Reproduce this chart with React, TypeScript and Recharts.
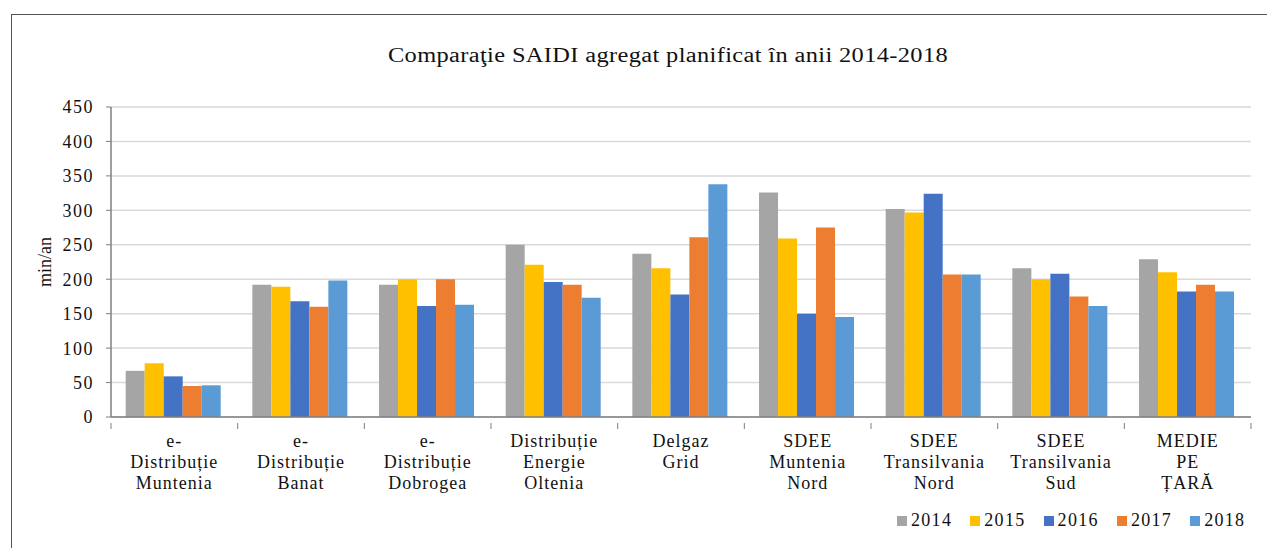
import { BarChart, Bar, XAxis, YAxis, CartesianGrid, Legend } from "recharts";

const categories = [
  "e-Distribuție Muntenia",
  "e-Distribuție Banat",
  "e-Distribuție Dobrogea",
  "Distribuție Energie Oltenia",
  "Delgaz Grid",
  "SDEE Muntenia Nord",
  "SDEE Transilvania Nord",
  "SDEE Transilvania Sud",
  "MEDIE PE ȚARĂ",
];

const categoryLines = [
  ["e-", "Distribuție", "Muntenia"],
  ["e-", "Distribuție", "Banat"],
  ["e-", "Distribuție", "Dobrogea"],
  ["Distribuție", "Energie", "Oltenia"],
  ["Delgaz", "Grid"],
  ["SDEE", "Muntenia", "Nord"],
  ["SDEE", "Transilvania", "Nord"],
  ["SDEE", "Transilvania", "Sud"],
  ["MEDIE", "PE", "ȚARĂ"],
];

const y2014 = [67, 192, 192, 250, 237, 326, 302, 216, 229];
const y2015 = [78, 189, 200, 221, 216, 259, 297, 200, 210];
const y2016 = [59, 168, 161, 196, 178, 150, 324, 208, 182];
const y2017 = [45, 160, 200, 192, 261, 275, 207, 175, 192];
const y2018 = [46, 198, 163, 173, 338, 145, 207, 161, 182];

const yTicks = [0, 50, 100, 150, 200, 250, 300, 350, 400, 450];

const series = [
  { key: "2014", color: "#A5A5A5" },
  { key: "2015", color: "#FFC000" },
  { key: "2016", color: "#4472C4" },
  { key: "2017", color: "#ED7D31" },
  { key: "2018", color: "#5B9BD5" },
];

const data = categories.map((name, i) => ({
  name,
  "2014": y2014[i],
  "2015": y2015[i],
  "2016": y2016[i],
  "2017": y2017[i],
  "2018": y2018[i],
}));

const FONT = "'Liberation Serif', 'Times New Roman', serif";
const TEXT = "#111";
const CHART_W = 1262;
const CHART_H = 530;
const MARGIN = { top: 92, right: 23, left: 0, bottom: 17 };
const Y_W = 99;

// half a category band, used to put x tick marks between groups (Excel style)
const plotW = CHART_W - MARGIN.left - MARGIN.right - Y_W;
const halfBand = plotW / categories.length / 2;

const CategoryTick = (props: any) => {
  const { x, y, payload, index } = props;
  const lines = categoryLines[index] || [payload.value];
  return (
    <g>
      <line x1={x - halfBand} y1={y - 2} x2={x - halfBand} y2={y + 4} stroke="#7f7f7f" />
      {index === categories.length - 1 && (
        <line x1={x + halfBand} y1={y - 2} x2={x + halfBand} y2={y + 4} stroke="#7f7f7f" />
      )}
      <text
        x={x}
        y={y + 22}
        textAnchor="middle"
        fill={TEXT}
        fontSize={18}
        fontFamily={FONT}
        letterSpacing={1}
      >
        {lines.map((l: string, i: number) => (
          <tspan key={i} x={x} dy={i === 0 ? 0 : 21}>
            {l}
          </tspan>
        ))}
      </text>
    </g>
  );
};

const LegendContent = ({ payload }: any) => (
  <div style={{ display: "flex", fontFamily: FONT, fontSize: 18, letterSpacing: 1.3, color: TEXT }}>
    {(payload || []).map((p: any) => (
      <div key={p.value} style={{ display: "flex", alignItems: "center", width: 73.3 }}>
        <span style={{ display: "inline-block", width: 10, height: 10, background: p.color, marginRight: 4 }} />
        <span>{p.value}</span>
      </div>
    ))}
  </div>
);

export default function App() {
  return (
    <div
      style={{
        position: "relative",
        left: 3,
        top: 6,
        width: 1275,
        height: 560,
        border: "1px solid #555",
        background: "#fff",
      }}
    >
      <div
        style={{
          position: "absolute",
          left: 256,
          top: 29,
          width: 800,
          textAlign: "center",
          fontFamily: FONT,
          fontSize: 20,
          letterSpacing: 0.3,
          transform: "scaleX(1.22)",
          color: TEXT,
        }}
      >
        Comparaţie SAIDI agregat planificat în anii 2014-2018
      </div>
      <BarChart width={CHART_W} height={CHART_H} data={data} margin={MARGIN} barCategoryGap="11.6%" barGap={0}>
        <CartesianGrid vertical={false} stroke="#d9d9d9" strokeWidth={1.5} />
        <XAxis
          dataKey="name"
          interval={0}
          tickLine={false}
          axisLine={{ stroke: "#7f7f7f", strokeWidth: 1.5 }}
          tick={<CategoryTick />}
          height={90}
        />
        <YAxis
          width={Y_W}
          domain={[0, 450]}
          ticks={yTicks}
          interval={0}
          tickSize={5}
          tickMargin={12}
          tickLine={{ stroke: "#7f7f7f" }}
          axisLine={{ stroke: "#7f7f7f", strokeWidth: 1.5 }}
          tick={{ fontSize: 18, fontFamily: FONT, fill: TEXT, letterSpacing: 1.5 }}
          label={{
            value: "min/an",
            angle: -90,
            position: "center",
            dx: -17,
            style: { fontSize: 18, fontFamily: FONT, fill: TEXT },
          }}
        />
        {series.map((s) => (
          <Bar key={s.key} dataKey={s.key} name={s.key} fill={s.color} isAnimationActive={false} />
        ))}
        <Legend
          content={<LegendContent />}
          wrapperStyle={{ position: "absolute", left: 885, top: 495, width: 380, bottom: "auto" }}
        />
      </BarChart>
    </div>
  );
}
